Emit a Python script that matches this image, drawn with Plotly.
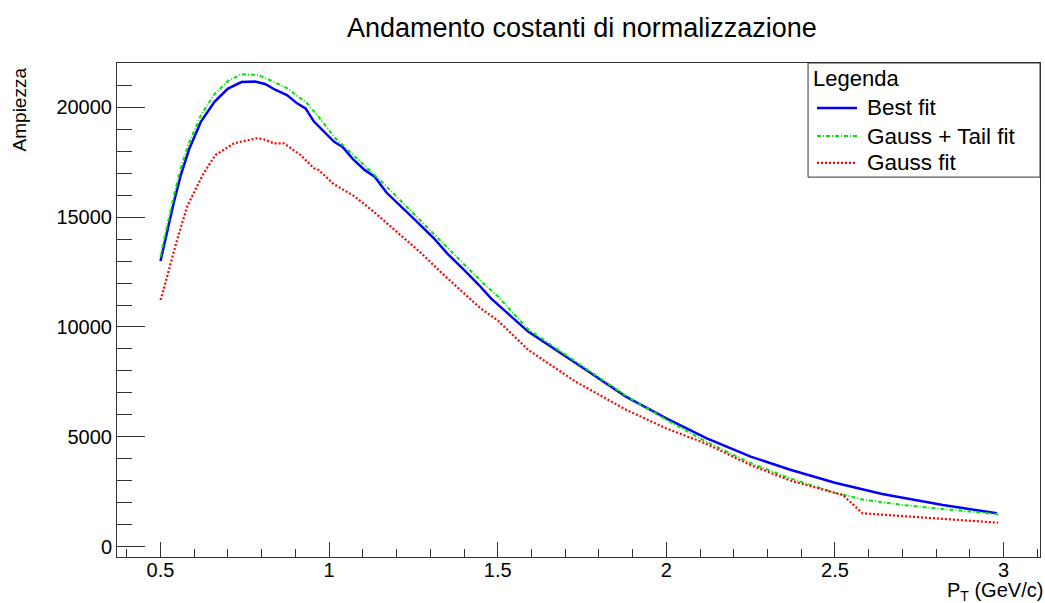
import plotly.graph_objects as go

# Normalization constants vs transverse momentum, for three fit models
pt_best = [0.50, 0.51, 0.54, 0.56, 0.585, 0.62, 0.66, 0.70, 0.74, 0.78, 0.81, 0.84,
           0.875, 0.905, 0.93, 0.955, 0.98, 1.015, 1.04, 1.07, 1.105, 1.135, 1.17,
           1.21, 1.26, 1.31, 1.35, 1.40, 1.445, 1.48, 1.59, 1.74, 1.88, 2.00, 2.12,
           2.25, 2.37, 2.50, 2.64, 2.82, 2.98]
amp_best = [13000, 13700, 15700, 16900, 18100, 19350, 20250, 20850, 21150, 21170,
            21060, 20800, 20560, 20180, 19950, 19350, 18970, 18430, 18200, 17650,
            17150, 16840, 16120, 15550, 14800, 14050, 13350, 12600, 11900, 11300,
            9790, 8270, 6830, 5840, 4930, 4100, 3490, 2910, 2400, 1900, 1520]

pt_tail = [0.50, 0.51, 0.54, 0.56, 0.585, 0.62, 0.66, 0.70, 0.74, 0.79, 0.83, 0.875,
           0.935, 0.975, 1.015, 1.06, 1.11, 1.16, 1.21, 1.26, 1.31, 1.36, 1.41,
           1.46, 1.50, 1.59, 1.74, 1.88, 2.00, 2.115, 2.25, 2.37, 2.50, 2.523,
           2.58, 2.70, 2.815, 2.984]
amp_tail = [13200, 13950, 16000, 17250, 18400, 19650, 20600, 21200, 21500, 21470,
            21200, 20870, 20180, 19450, 18650, 18000, 17300, 16550, 15780, 15000,
            14250, 13450, 12700, 11950, 11400, 9900, 8330, 6870, 5780, 4800, 3800,
            3100, 2450, 2380, 2150, 1900, 1720, 1480]

pt_gauss = [0.50, 0.51, 0.549, 0.579, 0.60, 0.628, 0.663, 0.678, 0.718, 0.737,
            0.786, 0.806, 0.836, 0.866, 0.915, 0.955, 0.969, 1.014, 1.073, 1.132,
            1.202, 1.271, 1.340, 1.400, 1.449, 1.50, 1.591, 1.731, 1.882, 1.999,
            2.115, 2.249, 2.37, 2.50, 2.523, 2.582, 2.698, 2.815, 2.984]
amp_gauss = [11230, 11760, 13960, 15480, 16150, 17000, 17830, 17980, 18360, 18430,
             18590, 18545, 18360, 18360, 17830, 17224, 17146, 16500, 15970, 15250,
             14300, 13390, 12370, 11534, 10851, 10300, 8953, 7510, 6222, 5390,
             4706, 3719, 3000, 2450, 2353, 1520, 1397, 1293, 1092]

x_ticks = [0.5, 1, 1.5, 2, 2.5, 3]
x_tick_text = ["0.5", "1", "1.5", "2", "2.5", "3"]
y_ticks = [0, 5000, 10000, 15000, 20000]
y_tick_text = ["0", "5000", "10000", "15000", "20000"]

series = [
    ("Best fit", pt_best, amp_best, "#0000ff", 2.5, "solid"),
    ("Gauss + Tail fit", pt_tail, amp_tail, "#00e600", 2, "4px,2px,1px,2px"),
    ("Gauss fit", pt_gauss, amp_gauss, "#ff0000", 2.2, "2px,2px"),
]

FONT = "Liberation Sans, Arial, Helvetica, sans-serif"
AXIS_COLOR = "#333333"

fig = go.Figure()
for name, xs, ys, color, width, dash in series:
    fig.add_trace(go.Scatter(
        x=xs, y=ys, mode="lines", name=name, showlegend=False,
        line=dict(color=color, width=width, dash=dash),
    ))

fig.update_layout(
    width=1045, height=603,
    margin=dict(l=117, r=5, t=63, b=46),
    paper_bgcolor="white", plot_bgcolor="white",
    font=dict(family=FONT, color="black", size=20),
    showlegend=False,
)

fig.update_xaxes(
    range=[0.371, 3.108], showgrid=False, zeroline=False,
    showline=True, linecolor=AXIS_COLOR, linewidth=1, mirror=True,
    tickmode="array", tickvals=x_ticks, ticktext=x_tick_text,
    ticks="inside", ticklen=15, tickwidth=1, tickcolor=AXIS_COLOR,
    minor=dict(dtick=0.1, tick0=0, ticks="inside", ticklen=8,
               tickcolor=AXIS_COLOR, showgrid=False),
    tickfont=dict(size=20, family=FONT, color="black"),
    ticklabelstandoff=-5,
)
fig.update_yaxes(
    range=[-469, 22016], showgrid=False, zeroline=False,
    showline=True, linecolor=AXIS_COLOR, linewidth=1, mirror=True,
    tickmode="array", tickvals=y_ticks, ticktext=y_tick_text,
    ticks="inside", ticklen=28, tickwidth=1, tickcolor=AXIS_COLOR,
    minor=dict(dtick=1000, tick0=0, ticks="inside", ticklen=15,
               tickcolor=AXIS_COLOR, showgrid=False),
    tickfont=dict(size=20, family=FONT, color="black"),
)

annotations = [
    dict(text="Andamento costanti di normalizzazione", xref="paper", yref="paper",
         x=0.5038, y=1.0709, xanchor="center", yanchor="middle", showarrow=False,
         font=dict(size=27, family=FONT, color="black")),
    dict(text="Ampiezza", xref="paper", yref="paper", x=-0.1046, y=0.996,
         xanchor="center", yanchor="top", textangle=-90, showarrow=False,
         font=dict(size=19, family=FONT, color="black")),
    dict(text="P<sub>T</sub> (GeV/c)", xref="paper", yref="paper", x=1.0055, y=-0.0700,
         xanchor="right", yanchor="middle", showarrow=False,
         font=dict(size=20, family=FONT, color="black")),
]

# Boxed legend in the upper-right corner of the frame
shapes = [dict(type="rect", xref="paper", yref="paper", x0=0.7487, x1=1.0,
               y0=0.769, y1=1.0, line=dict(color=AXIS_COLOR, width=1),
               fillcolor="white", layer="above")]
annotations.append(dict(text="Legenda", xref="paper", yref="paper", x=0.7520, y=0.968,
                        xanchor="left", yanchor="middle", showarrow=False,
                        font=dict(size=22, family=FONT, color="black")))
entry_y = [0.909, 0.852, 0.798]
for (name, xs, ys, color, width, dash), ey in zip(series, entry_y):
    shapes.append(dict(type="line", xref="paper", yref="paper", x0=0.7584, x1=0.8017,
                       y0=ey, y1=ey, line=dict(color=color, width=width, dash=dash),
                       layer="above"))
    annotations.append(dict(text=name, xref="paper", yref="paper", x=0.8100, y=ey,
                            xanchor="left", yanchor="middle", showarrow=False,
                            font=dict(size=22.5, family=FONT, color="black")))

fig.update_layout(annotations=annotations, shapes=shapes)

fig.write_html("out.html")
